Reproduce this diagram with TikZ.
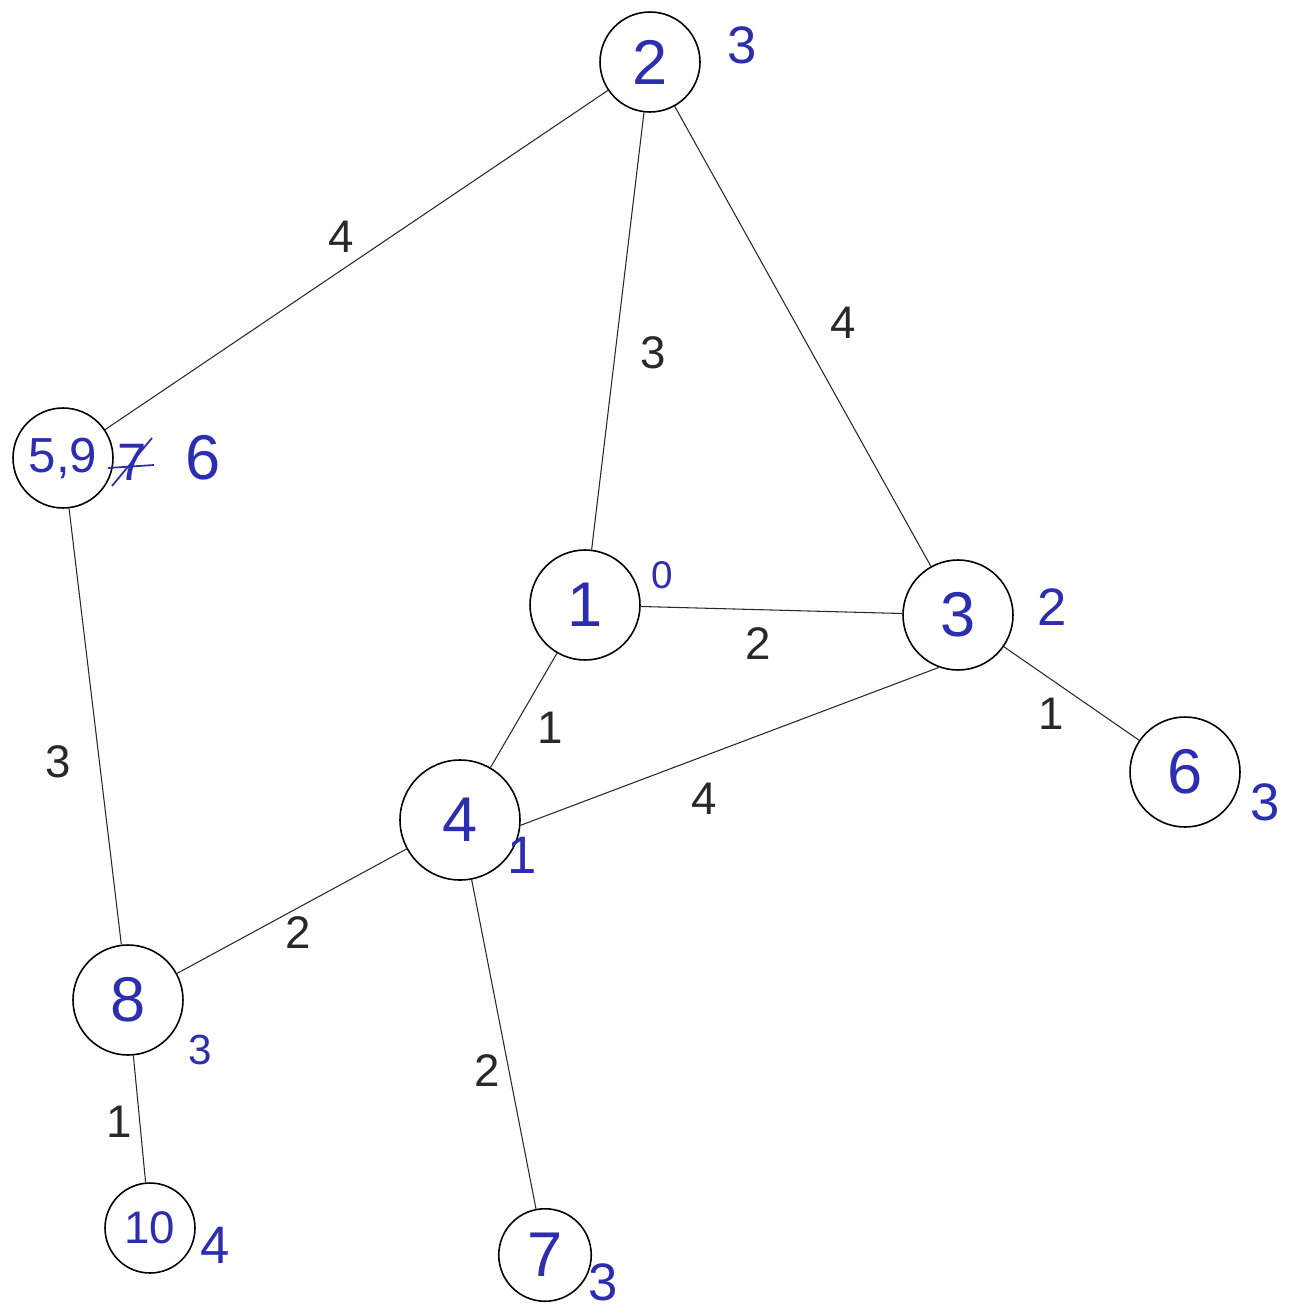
\documentclass[tikz,border=0pt]{standalone}
\usepackage{fontspec}
\setmainfont{Liberation Sans}
\definecolor{ink}{RGB}{45,45,175}
\definecolor{pencil}{RGB}{40,40,40}
\begin{document}
\begin{tikzpicture}[x=0.02cm,y=-0.02cm,
  vert/.style={circle,draw=black,line width=0.9pt,inner sep=0pt,text=ink,font=\fontsize{36}{36}\selectfont},
  dist/.style={text=ink,font=\fontsize{30}{30}\selectfont,inner sep=0pt},
  wt/.style={text=pencil,font=\fontsize{26}{26}\selectfont,inner sep=0pt},
  edge/.style={draw=pencil,line width=0.6pt}]
\useasboundingbox (0,0) rectangle (1303,1314);
% vertices
\node[vert,minimum size=2cm] (n2) at (650,62) {2};
\node[vert,minimum size=2cm,font=\fontsize{28}{28}\selectfont] (n59) at (63,458) {5,9};
\node[vert,minimum size=2.2cm] (n1) at (585,605) {1};
\node[vert,minimum size=2.2cm] (n3) at (958,615) {3};
\node[vert,minimum size=2.2cm] (n6) at (1185,772) {6};
\node[vert,minimum size=2.4cm] (n4) at (460,820) {4};
\node[vert,minimum size=2.2cm] (n8) at (128,1000) {8};
\node[vert,minimum size=1.8cm,font=\fontsize{26}{26}\selectfont] (n10) at (150,1228) {10};
\node[vert,minimum size=1.85cm] (n7) at (545,1255) {7};
% distance labels
\node[dist] (d2) at (742,45) {3};
\node[dist] (d59old) at (132,462) {7};
\node[dist,font=\fontsize{36}{36}\selectfont] (d59) at (203,458) {6};
\draw[ink,line width=1pt] ([shift={(-20,24)}]d59old.center) -- ([shift={(20,-24)}]d59old.center);
\draw[ink,line width=1pt] ([shift={(-24,6)}]d59old.center) -- ([shift={(22,3)}]d59old.center);
\node[dist,font=\fontsize{22}{22}\selectfont] (d1) at (662,575) {0};
\node[dist] (d3) at (1052,607) {2};
\node[dist] (d6) at (1265,802) {3};
\node[dist] (d4) at (522,855) {1};
\node[dist,font=\fontsize{24}{24}\selectfont] (d8) at (200,1050) {3};
\node[dist] (d10) at (215,1245) {4};
\node[dist] (d7) at (603,1282) {3};
% edges
\draw[edge] (n2) -- (n59) node[wt,pos=0.53,above=10pt] {4};
\draw[edge] (n2) -- (n1) node[wt,pos=0.55,right=14pt] {3};
\draw[edge] (n2) -- (n3) node[wt,pos=0.47,right=20pt] {4};
\draw[edge] (n59) -- (n8) node[wt,pos=0.58,left=16pt] {3};
\draw[edge] (n1) -- (n3) node[wt,pos=0.45,below=10pt] {2};
\draw[edge] (n1) -- (n4) node[wt,pos=0.65,right=13pt] {1};
\draw[edge] (n3.-110) -- (n4.-5) node[wt,pos=0.56,below=15pt] {4};
\draw[edge] (n3) -- (n6) node[wt,pos=0.35,below=10pt] {1};
\draw[edge] (n4) -- (n8) node[wt,pos=0.47,below=5pt] {2};
\draw[edge] (n4) -- (n7) node[wt,pos=0.58,left=5pt] {2};
\draw[edge] (n8) -- (n10) node[wt,pos=0.52,left=4pt] {1};
\end{tikzpicture}
\end{document}
